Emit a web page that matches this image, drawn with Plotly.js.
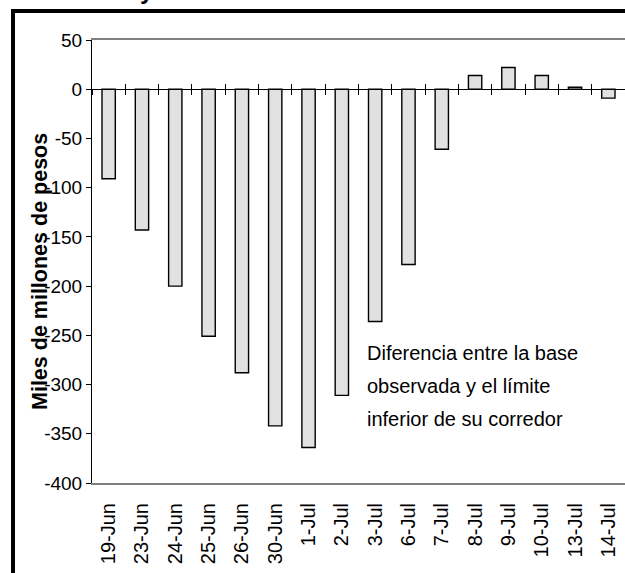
<!DOCTYPE html>
<html>
<head>
<meta charset="utf-8">
<script src="https://cdn.plot.ly/plotly-3.0.1.min.js"></script>
<style>html,body{margin:0;padding:0;background:#fff;overflow:hidden;}#chart{width:625px;height:573px;}</style>
</head>
<body>
<div id="chart"></div>
<script>
var categories = ["19-Jun","23-Jun","24-Jun","25-Jun","26-Jun","30-Jun","1-Jul","2-Jul","3-Jul","6-Jul","7-Jul","8-Jul","9-Jul","10-Jul","13-Jul","14-Jul"];
var values = [-91, -143, -200, -251, -288, -342, -364, -311, -236, -178, -61, 14, 22, 14, 2, -9];
var yTickVals = [50, 0, -50, -100, -150, -200, -250, -300, -350, -400];
var yTickText = ["50", "0", "-50", "-100", "-150", "-200", "-250", "-300", "-350", "-400"];
var yTitle = "Miles de millones de pesos";
var noteLines = ["Diferencia entre la base", "observada y el límite", "inferior de su corredor"];
var titleFragment = "y";

var FONT = "Liberation Sans, Arial, sans-serif";
var W = 625, H = 573, L = 92, T = 40, B = 90;
var plotW = W - L, plotH = H - T - B;
function px2x(p){ return (p - L) / plotW; }
function py2y(p){ return (H - B - p) / plotH; }

var yMin = -400, yMax = 50;
var zeroPos = (0 - yMin) / (yMax - yMin);

var trace = {
  type: "bar",
  x: categories,
  y: values,
  marker: { color: "#e1e1e1", line: { color: "#000000", width: 1.4 } },
  hoverinfo: "x+y",
  xaxis: "x",
  yaxis: "y"
};
function carrier(ax) {
  return { type: "bar", x: categories, y: values, xaxis: ax, yaxis: "y",
    marker: { color: "rgba(0,0,0,0)", line: { width: 0 } }, hoverinfo: "skip", showlegend: false };
}

var annotations = [
  { xref: "paper", yref: "paper", x: px2x(40), y: py2y(272), xanchor: "center", yanchor: "middle",
    text: "<b>" + yTitle + "</b>", textangle: -90, showarrow: false,
    font: { family: FONT, size: 21.5, color: "#000" } },
  { xref: "paper", yref: "paper", x: px2x(147), y: py2y(6), xanchor: "center", yanchor: "bottom",
    text: "<b>" + titleFragment + "</b>", showarrow: false,
    font: { family: FONT, size: 24, color: "#000" } }
];
var lineCenters = [353, 386, 419];
for (var i = 0; i < noteLines.length; i++) {
  annotations.push({ xref: "paper", yref: "paper", x: px2x(365), y: py2y(lineCenters[i]),
    xanchor: "left", yanchor: "middle", text: noteLines[i], showarrow: false,
    font: { family: FONT, size: 20, color: "#000" } });
}

var zeroAxisBase = {
  overlaying: "x", anchor: "free", position: zeroPos, side: "bottom",
  type: "category", categoryorder: "array", categoryarray: categories,
  range: [-0.5, categories.length - 0.5],
  tickson: "boundaries", ticklen: 5, tickwidth: 1, tickcolor: "#000",
  showticklabels: false, showgrid: false, zeroline: false, fixedrange: true
};
var xaxis2 = Object.assign({}, zeroAxisBase, { ticks: "outside", showline: true, linecolor: "#000", linewidth: 1 });
var xaxis3 = Object.assign({}, zeroAxisBase, { ticks: "inside", showline: false });

var layout = {
  width: W, height: H,
  margin: { l: L, r: 0, t: T, b: B, pad: 0 },
  paper_bgcolor: "#ffffff",
  plot_bgcolor: "#ffffff",
  showlegend: false,
  bargap: 0.6,
  barmode: "group",
  font: { family: FONT, size: 20, color: "#000" },
  xaxis: {
    type: "category",
    categoryorder: "array",
    categoryarray: categories,
    range: [-0.5, categories.length - 0.5],
    tickangle: -90,
    ticks: "",
    ticklabelstandoff: 10,
    showline: true, linecolor: "#808080", linewidth: 2, mirror: true,
    showgrid: false, zeroline: false,
    tickfont: { family: FONT, size: 20, color: "#000" },
    fixedrange: true
  },
  xaxis2: xaxis2,
  xaxis3: xaxis3,
  yaxis: {
    range: [yMin, yMax],
    tickmode: "array", tickvals: yTickVals, ticktext: yTickText,
    ticks: "outside", ticklen: 5, tickwidth: 1, tickcolor: "#000",
    showline: true, linecolor: "#000", linewidth: 1,
    showgrid: false, zeroline: false,
    tickfont: { family: FONT, size: 19, color: "#000" },
    fixedrange: true
  },
  annotations: annotations,
  shapes: [
    { type: "line", xref: "paper", yref: "paper",
      x0: px2x(11), x1: 1, y0: py2y(11), y1: py2y(11),
      line: { color: "#000", width: 4 }, layer: "above" },
    { type: "line", xref: "paper", yref: "paper",
      x0: px2x(13), x1: px2x(13), y0: py2y(9), y1: 0,
      line: { color: "#000", width: 4 }, layer: "above" },
    { type: "line", xref: "paper", yref: "paper",
      x0: px2x(13), x1: px2x(13), y0: 0, y1: py2y(573),
      line: { color: "#000", width: 4 }, layer: "above" }
  ]
};

Plotly.newPlot("chart", [carrier("x2"), carrier("x3"), trace], layout, { displayModeBar: false, staticPlot: true });
</script>
</body>
</html>
